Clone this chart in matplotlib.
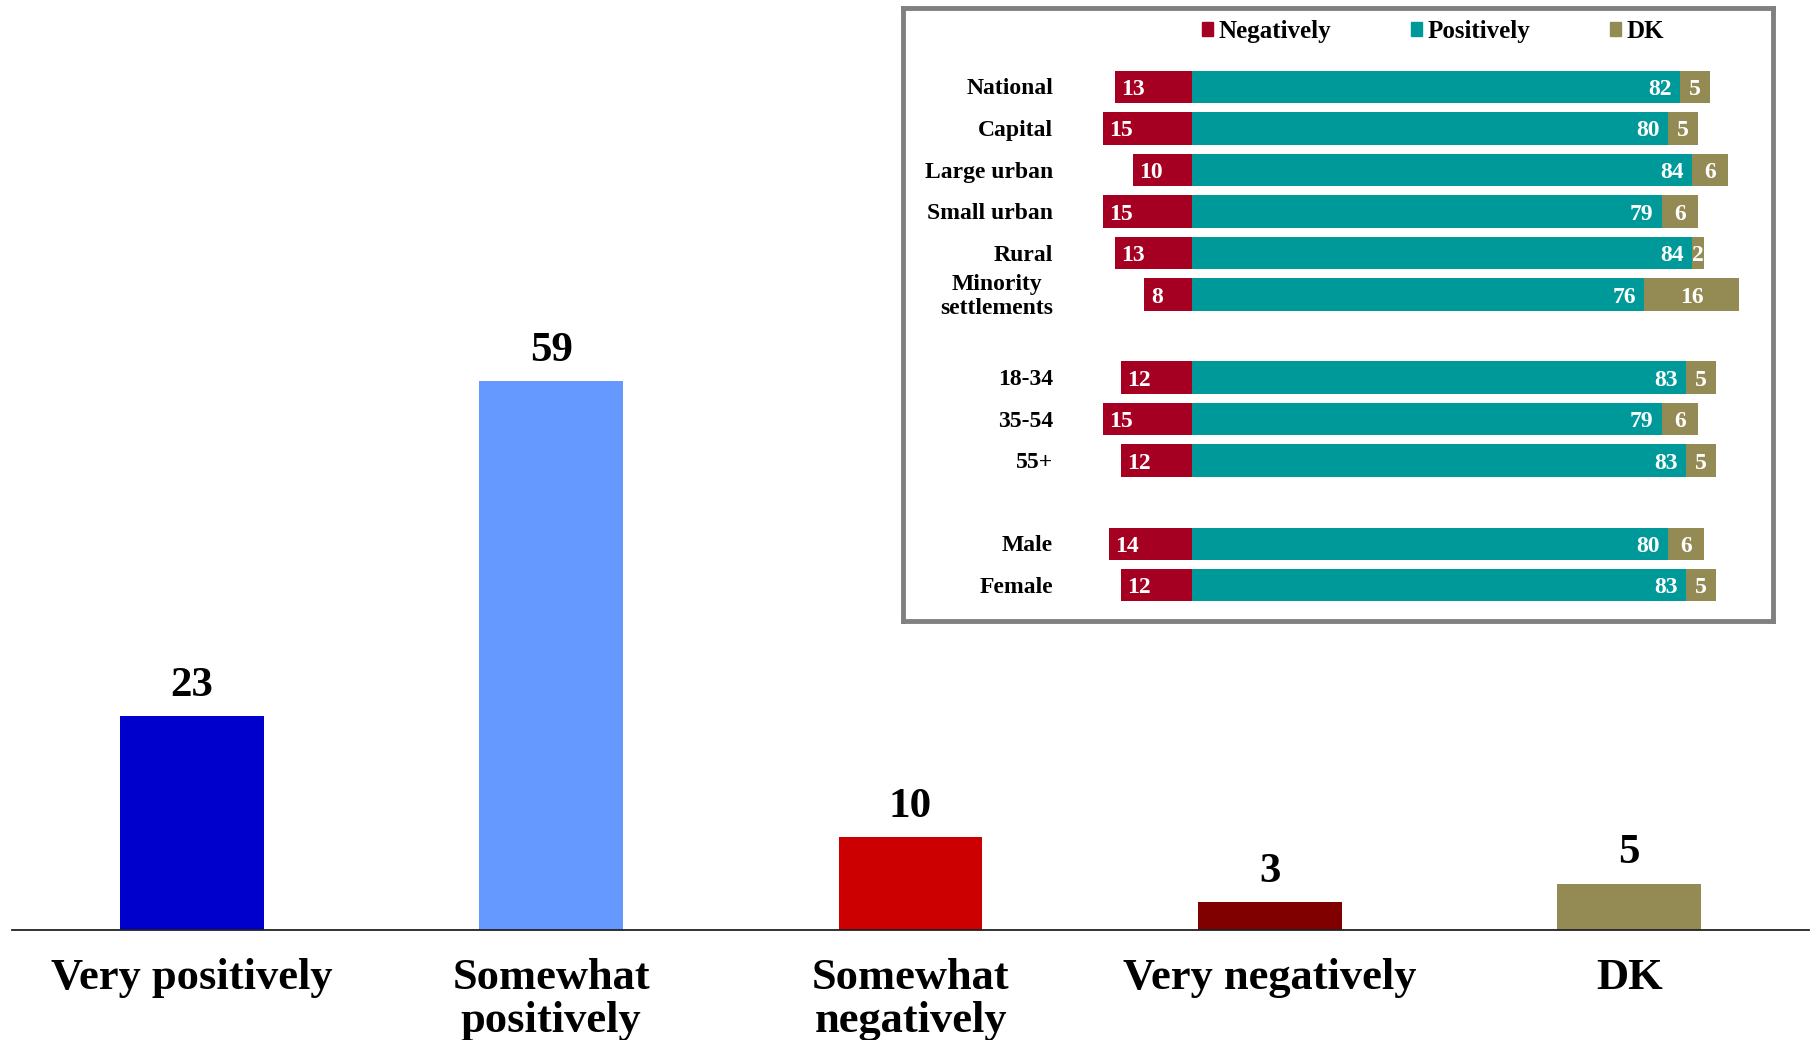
import matplotlib
matplotlib.use("Agg")
import matplotlib.pyplot as plt
from matplotlib.patches import Patch

plt.rcParams["font.family"] = ["Liberation Serif", "DejaVu Serif"]
plt.rcParams["font.weight"] = "bold"

# main chart
categories = ["Very positively", "Somewhat\npositively", "Somewhat\nnegatively",
              "Very negatively", "DK"]
values = [23, 59, 10, 3, 5]
bar_colors = ["#0000CC", "#6699FF", "#CC0000", "#800000", "#948A54"]

# inset breakdown
groups = ["National", "Capital", "Large urban", "Small urban", "Rural",
          "Minority\nsettlements", "18-34", "35-54", "55+", "Male", "Female"]
group_rows = [0, 1, 2, 3, 4, 5, 7, 8, 9, 11, 12]
negatively = [13, 15, 10, 15, 13, 8, 12, 15, 12, 14, 12]
positively = [82, 80, 84, 79, 84, 76, 83, 79, 83, 80, 83]
dk = [5, 5, 6, 6, 2, 16, 5, 6, 5, 6, 5]

NEG, POS, DKC = "#A50021", "#009999", "#948A54"

W, H = 1818, 1040
fig = plt.figure(figsize=(W / 100, H / 100), dpi=100)

ax = fig.add_axes([12 / W, (H - 930) / H, (1809 - 12) / W, 930 / H])
x = range(len(categories))
ax.bar(x, values, width=0.4, color=bar_colors)
for xi, v in zip(x, values):
    ax.annotate(str(v), (xi, v), xytext=(0, 8), textcoords="offset points",
                ha="center", va="bottom", fontsize=31, fontweight="bold")
ax.set_xlim(-0.5, 4.5)
ax.set_ylim(0, 100)
ax.set_xticks(list(x))
ax.set_xticklabels(categories, fontsize=32, fontweight="bold", linespacing=1.1)
ax.tick_params(axis="x", length=0, pad=20)
ax.set_yticks([])
for s in ["top", "left", "right"]:
    ax.spines[s].set_visible(False)
ax.spines["bottom"].set_color("#222222")
ax.spines["bottom"].set_linewidth(1.3)

# inset panel
x0, x1, y0, y1 = 903, 1773, 8, 621
ins = fig.add_axes([x0 / W, (H - y1) / H, (x1 - x0) / W, (y1 - y0) / H])
zero_px, unit = 1192, 5.95
ins.set_xlim((x0 - zero_px) / unit, (x1 - zero_px) / unit)
ins.set_ylim(12.86, -1.9)
h = 0.78
ins.barh(group_rows, [-n for n in negatively], height=h, color=NEG)
ins.barh(group_rows, positively, height=h, color=POS)
ins.barh(group_rows, dk, left=positively, height=h, color=DKC)
for r, n, p, d in zip(group_rows, negatively, positively, dk):
    ins.text(-n + 1.1, r, str(n), ha="left", va="center_baseline", color="white",
             fontsize=17, fontweight="bold")
    ins.text(p - 1.4, r, str(p), ha="right", va="center_baseline", color="white",
             fontsize=17, fontweight="bold")
    ins.text(p + d / 2, r, str(d), ha="center", va="center_baseline", color="white",
             fontsize=17, fontweight="bold")
label_x = (1053 - zero_px) / unit
for r, g in zip(group_rows, groups):
    ins.text(label_x, r + 0.05, g, ha="right", va="center", fontsize=17,
             fontweight="bold", linespacing=1.15,
             multialignment="center")
ins.set_yticks([])
ins.set_xticks([])
for s in ins.spines.values():
    s.set_color("#808080")
    s.set_linewidth(3.5)

handles = [Patch(color=NEG, label="Negatively"), Patch(color=POS, label="Positively"),
           Patch(color=DKC, label="DK")]
ins.legend(handles=handles, ncol=3, loc="center", bbox_to_anchor=(0.609, 0.962),
           frameon=False, fontsize=18, handlelength=0.45, handleheight=0.45,
           handletextpad=0.2, columnspacing=3.2)

fig.savefig("out.png", dpi=100)
